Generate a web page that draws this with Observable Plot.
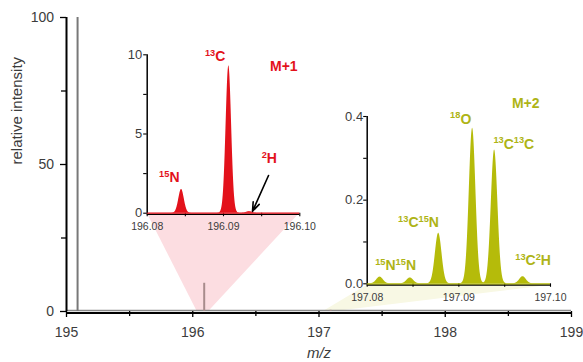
<!DOCTYPE html>
<html><head><meta charset="utf-8">
<script src="https://cdn.jsdelivr.net/npm/d3@7"></script>
<script src="https://cdn.jsdelivr.net/npm/@observablehq/plot@0.6"></script>
<style>
body{margin:0;background:#fff;}
#wrap{position:relative;width:583px;height:362px;overflow:hidden;font-family:"Liberation Sans",sans-serif;}
#wrap svg{position:absolute;overflow:visible;max-width:none;}
</style></head><body><div id="wrap"></div>
<script>
// ---- main spectrum ----
const mainMz = [195.0877, 196.0907, 197.0915];
const mainIntensity = [100, 9.6, 0.4];
const mainXTicks = [195, 196, 197, 198, 199];
const mainXMinor = [195.5, 196.5, 197.5, 198.5];
const mainYTicks = [0, 50, 100];
const mainYMinor = [25, 75];

// ---- M+1 inset ----
const m1Mz = [196.0845, 196.0907, 196.0934];
const m1Intensity = [1.5, 9.3, 0.1];
const m1XTicks = [196.08, 196.09, 196.10];
const m1XMinor = [196.085, 196.095];
const m1YTicks = [0, 5, 10];
const m1YMinor = [2.5, 7.5];
const m1Labels = ["15N", "13C", "2H", "M+1"];
const m1LabelMz = [196.0829, 196.0889, 196.0960, 196.0979];
const m1LabelY = [1.96, 9.6, 3.16, 9.0];
const m1ArrowFrom = [196.0959, 2.38];
const m1ArrowTo = [196.0938, 0.12];

// ---- M+2 inset ----
const m2Mz = [197.0814, 197.0847, 197.0878, 197.0915, 197.0939, 197.0970];
const m2Intensity = [0.016, 0.014, 0.121, 0.372, 0.320, 0.017];
const m2XTicks = [197.08, 197.09, 197.10];
const m2XMinor = [197.085, 197.095];
const m2YTicks = [0, 0.2, 0.4];
const m2YMinor = [0.1, 0.3];
const m2Labels = ["15N15N", "13C15N", "18O", "13C13C", "13C2H", "M+2"];
const m2LabelMz = [197.0831, 197.0856, 197.0902, 197.0960, 197.0981, 197.0973];
const m2LabelY = [0.032, 0.135, 0.383, 0.323, 0.044, 0.421];

// zoom source ranges on main axis
const m1Source = [196.035, 196.127];
const m2Source = [197.035, 197.130];

const RED = "#e3121b", OLIVE = "#b5bb0a", OLIVE_TXT = "#aeb416", GREY_TXT = "#3c3c3c";
const FONT = "Liberation Sans, sans-serif";

// layout (pixels)
const MAIN = {left: 66, right: 571, top: 17, bottom: 311};
const IN1 = {svgLeft: 100, svgTop: 20, w: 215, h: 220, left: 146.7, right: 299.3, top: 54.3, bottom: 212.7};
const IN2 = {svgLeft: 320, svgTop: 80, w: 263, h: 230, left: 366.7, right: 550, top: 116, bottom: 283.3};

const sigma = 0.00036;
function profile(mz, inten, lo, hi) {
  const pts = [];
  const n = 1000;
  for (let k = 0; k <= n; k++) {
    const x = lo + (hi - lo) * k / n;
    let y = 0;
    for (let i = 0; i < mz.length; i++) y += inten[i] * Math.exp(-((x - mz[i]) ** 2) / (2 * sigma * sigma));
    pts.push({x, y});
  }
  return pts;
}

const sx = Plot.scale({x: {domain: [195, 199], range: [MAIN.left, MAIN.right]}});
const sy = Plot.scale({y: {domain: [0, 100], range: [MAIN.bottom, MAIN.top]}});

const pinkPoly = [
  {y: 0, x1: m1Source[0], x2: m1Source[1]},
  {y: sy.invert(IN1.bottom), x1: sx.invert(IN1.left), x2: sx.invert(IN1.right)}
];
const olivePoly = [
  {y: 0, x1: m2Source[0], x2: m2Source[1]},
  {y: sy.invert(IN2.bottom + 1.5), x1: sx.invert(IN2.left), x2: sx.invert(IN2.right)}
];

const mainData = mainMz.map((m, i) => ({m, v: mainIntensity[i], i}));

const main = Plot.plot({
  width: 583, height: 362,
  marginLeft: MAIN.left, marginRight: 583 - MAIN.right, marginTop: MAIN.top, marginBottom: 362 - MAIN.bottom,
  x: {domain: [195, 199], axis: null},
  y: {domain: [0, 100], axis: null},
  style: {background: "transparent", fontFamily: FONT, overflow: "visible"},
  marks: [
    Plot.areaX(pinkPoly, {y: "y", x1: "x1", x2: "x2", fill: "#fcdde1"}),
    Plot.areaX(olivePoly, {y: "y", x1: "x1", x2: "x2", fill: "#f8f8e4"}),
    Plot.ruleY([0], {stroke: "#8a8a8a", strokeWidth: 1.6, dy: -1}),
    Plot.ruleX(mainData, {x: "m", y1: 0, y2: "v", stroke: d => d.i === 0 ? "#787878" : "#a88c8c", strokeWidth: 2}),
    Plot.ruleX([195], {stroke: "#000", strokeWidth: 2}),
    Plot.ruleY([0], {stroke: "#000", strokeWidth: 2, dy: 1.5}),
    Plot.axisX(mainXTicks, {tickSize: 6, tickPadding: 10, fontSize: 14, stroke: "#000", strokeWidth: 1.3, fill: GREY_TXT, label: null, tickFormat: d => String(d)}),
    Plot.axisX(mainXMinor, {tickSize: 5, stroke: "#000", strokeWidth: 1.3, label: null, tickFormat: () => ""}),
    Plot.axisY(mainYTicks, {tickSize: 6, tickPadding: 6.5, fontSize: 14, stroke: "#000", strokeWidth: 1.3, fill: GREY_TXT, label: null, tickFormat: d => String(d)}),
    Plot.axisY(mainYMinor, {tickSize: 5, stroke: "#000", strokeWidth: 1.3, label: null, tickFormat: () => ""}),
    Plot.text(["relative intensity"], {frameAnchor: "left", dx: -49, rotate: -90, fontSize: 15, fill: GREY_TXT, text: d => d}),
    Plot.text(["m/z"], {frameAnchor: "bottom", dy: 46, lineAnchor: "bottom", fontSize: 15, fontStyle: "italic", fill: GREY_TXT, text: d => d})
  ]
});
main.style.left = "0px"; main.style.top = "0px";

function inset(cfg, xDomain, yDomain, mz, inten, color, xTicks, xMinor, yTicks, yMinor, yFmt, labels, lMz, lY, txtColor, extra) {
  const data = profile(mz, inten, xDomain[0], xDomain[1]);
  const lab = labels.map((t, i) => ({t, x: lMz[i], y: lY[i]}));
  return Plot.plot({
    width: cfg.w, height: cfg.h,
    marginLeft: cfg.left - cfg.svgLeft, marginRight: cfg.svgLeft + cfg.w - cfg.right,
    marginTop: cfg.top - cfg.svgTop, marginBottom: cfg.svgTop + cfg.h - cfg.bottom,
    x: {domain: xDomain, axis: null},
    y: {domain: yDomain, axis: null},
    style: {background: "transparent", fontFamily: FONT, overflow: "visible"},
    marks: [
      Plot.ruleY([yDomain[0]], {stroke: "#000", strokeWidth: 1.3, dy: 1.2}),
      Plot.axisX(xTicks, {tickSize: 3.5, tickPadding: cfg.xPad, fontSize: 10.5, stroke: "#000", strokeWidth: 1.1, fill: GREY_TXT, label: null, tickFormat: d3.format(".2f")}),
      Plot.axisX(xMinor, {tickSize: 3.5, stroke: "#000", strokeWidth: 1.1, label: null, tickFormat: () => ""}),
      Plot.areaY(data, {x: "x", y: "y", fill: color}),
      Plot.ruleY([yDomain[0]], {stroke: color, strokeWidth: 1.3}),
      Plot.ruleX([xDomain[0]], {stroke: "#000", strokeWidth: 1.5}),
      Plot.axisY(yTicks, {tickSize: 3.5, tickPadding: cfg.yPad, fontSize: 13, stroke: "#000", strokeWidth: 1.1, fill: GREY_TXT, label: null, tickFormat: yFmt}),
      Plot.axisY(yMinor, {tickSize: 3.5, stroke: "#000", strokeWidth: 1.1, label: null, tickFormat: () => ""}),
      Plot.text(lab, {x: "x", y: "y", text: "t", lineAnchor: "bottom", fontSize: 14, fontWeight: "bold", fill: txtColor}),
      ...extra
    ]
  });
}

const in1 = inset({...IN1, xPad: 5.5, yPad: 1.5}, [196.08, 196.10], [0, 10], m1Mz, m1Intensity, RED,
  m1XTicks, m1XMinor, m1YTicks, m1YMinor, d => String(d), m1Labels, m1LabelMz, m1LabelY, RED,
  [Plot.arrow([0], {x1: () => m1ArrowFrom[0], y1: () => m1ArrowFrom[1], x2: () => m1ArrowTo[0], y2: () => m1ArrowTo[1], stroke: "#000", strokeWidth: 1.6, headLength: 9, headAngle: 40})]);
in1.style.left = IN1.svgLeft + "px"; in1.style.top = IN1.svgTop + "px";

const in2 = inset({...IN2, xPad: 6.5, yPad: 0.5}, [197.08, 197.10], [0, 0.4], m2Mz, m2Intensity, OLIVE,
  m2XTicks, m2XMinor, m2YTicks, m2YMinor, d3.format(".1f"), m2Labels, m2LabelMz, m2LabelY, OLIVE_TXT, []);
in2.style.left = IN2.svgLeft + "px"; in2.style.top = IN2.svgTop + "px";

function superscript(svg, size) {
  d3.select(svg).selectAll('g[aria-label="text"] text').each(function () {
    const s = this.textContent;
    if (!/^\d+[A-Z]/.test(s)) return;
    const parts = s.match(/\d+|\D+/g);
    this.textContent = "";
    let up = false;
    for (const p of parts) {
      const t = d3.select(this).append("tspan").text(p);
      if (/^\d+$/.test(p)) { t.attr("font-size", size * 0.66).attr("dy", up ? 0 : -size * 0.38); up = true; }
      else { t.attr("dy", up ? size * 0.38 : 0); up = false; }
    }
  });
}
superscript(in1, 14);
superscript(in2, 14);

const wrap = document.getElementById("wrap");
wrap.append(main, in1, in2);
</script>
</body></html>
